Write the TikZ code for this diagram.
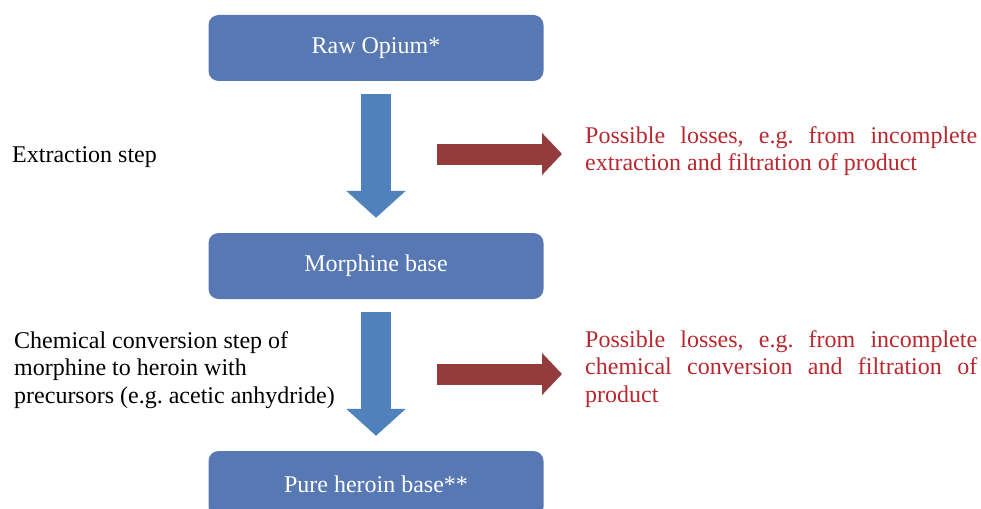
\documentclass[tikz,border=0pt]{standalone}
\usepackage{fontspec}
\setmainfont{Liberation Serif}
\usetikzlibrary{arrows.meta,calc}
\frenchspacing
\hyphenpenalty=10000

\definecolor{boxblue}{HTML}{5878B4}
\definecolor{flowblue}{HTML}{4F81BD}
\definecolor{lossarrow}{HTML}{943C3C}
\definecolor{losstext}{HTML}{B8282E}

\tikzstyle{stepbox} = [fill=boxblue, text=white, rectangle, rounded corners=10pt,
    minimum width=335pt, minimum height=66pt, font=\fontsize{24}{27.6}\selectfont]
\tikzstyle{downflow} = [draw=flowblue, line width=30pt,
    -{Triangle[length=27pt, width=58pt]}, shorten <=13pt, shorten >=15pt]
\tikzstyle{lossflow} = [draw=lossarrow, line width=21pt,
    -{Triangle[length=20pt, width=41pt]}, shorten >=23pt]
\tikzstyle{sidenote} = [anchor=west, align=left, inner sep=0pt,
    font=\fontsize{24}{27.6}\selectfont]
\tikzstyle{lossnote} = [anchor=west, align=justify, text width=392pt, inner sep=0pt,
    text=losstext, font=\fontsize{24}{27.6}\selectfont]

\begin{document}
\begin{tikzpicture}[x=1pt, y=-1pt]
\useasboundingbox (0,0) rectangle (981,508);

% main steps
\node [stepbox] (opium) at (376,48) {Raw Opium*};
\node [stepbox] (morphine) at (376,266) {Morphine base};
\node [stepbox] (heroin) at (376,484) {Pure heroin base**};

\draw [downflow] (opium) -- (morphine);
\draw [downflow] (morphine) -- (heroin);

% step descriptions
\node [sidenote] (extract) at (12,157) {Extraction step};
\node [sidenote] (convert) at (14,370) {Chemical conversion step of\\
    morphine to heroin with\\ precursors (e.g. acetic anhydride)};

% losses
\node [lossnote] (loss1) at (585,151) {Possible losses, e.g. from incomplete
    extraction and filtration of product};
\node [lossnote] (loss2) at (585,369) {Possible losses, e.g. from incomplete
    chemical conversion and filtration of product};

\coordinate (lossstart1) at (437,154);
\coordinate (lossstart2) at (437,374);
\draw [lossflow] (lossstart1) -- (lossstart1 -| loss1.west);
\draw [lossflow] (lossstart2) -- (lossstart2 -| loss2.west);
\end{tikzpicture}
\end{document}
